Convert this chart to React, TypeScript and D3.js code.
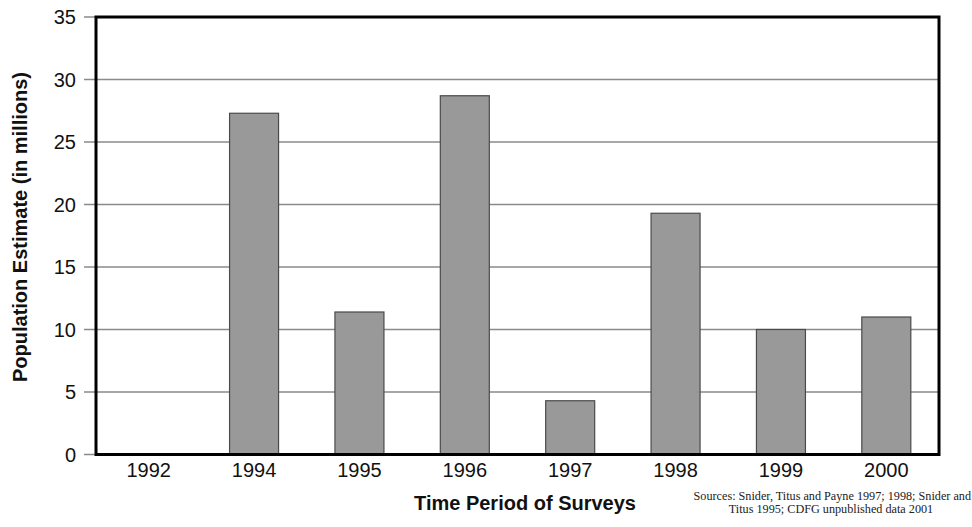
import React from "react";
import * as d3 from "d3";

const categories = ["1992", "1994", "1995", "1996", "1997", "1998", "1999", "2000"];
const values = [0, 27.3, 11.4, 28.7, 4.3, 19.3, 10.0, 11.0];
const yTicks = [0, 5, 10, 15, 20, 25, 30, 35];

export default function App() {
  const W = 972, H = 527;
  const left = 96, right = 939, top = 17, bottom = 454.5;
  const x = d3.scaleBand<string>().domain(categories).range([left, right]).paddingInner(0.535).paddingOuter(0.2675);
  const y = d3.scaleLinear().domain([0, 35]).range([bottom, top]);
  const font = "'Liberation Sans', Arial, sans-serif";
  const serif = "'Liberation Serif', 'Times New Roman', serif";
  return (
    <svg width={W} height={H} style={{ position: "absolute", left: 0, top: 0, background: "#fff" }}>
      {yTicks.map((t) => (
        <g key={t}>
          {t > 0 && t < 35 && (
            <line x1={left} x2={right} y1={y(t)} y2={y(t)} stroke="#8a8a8a" strokeWidth={1.5} />
          )}
          <line x1={84} x2={left} y1={y(t)} y2={y(t)} stroke="#8a8a8a" strokeWidth={1.5} />
          <text x={76} y={y(t)} dy="0.36em" textAnchor="end" fontFamily={font} fontSize={20} fill="#111">
            {t}
          </text>
        </g>
      ))}
      {categories.map((c, i) => (
        <g key={c}>
          {values[i] > 0 && (
            <rect
              x={x(c)}
              y={y(values[i])}
              width={x.bandwidth()}
              height={y(0) - y(values[i])}
              fill="#999999"
              stroke="#4a4a4a"
              strokeWidth={1.2}
            />
          )}
          <text x={(x(c) as number) + x.bandwidth() / 2} y={477} textAnchor="middle" fontFamily={font} fontSize={20} fill="#111">
            {c}
          </text>
        </g>
      ))}
      <rect x={left} y={top} width={right - left} height={bottom - top} fill="none" stroke="#000" strokeWidth={3} />
      <text
        transform={`translate(27,227) rotate(-90)`}
        textAnchor="middle"
        fontFamily={font}
        fontWeight="bold"
        fontSize={20}
        fill="#111"
      >
        Population Estimate (in millions)
      </text>
      <text x={525} y={510} textAnchor="middle" fontFamily={font} fontWeight="bold" fontSize={20} fill="#111">
        Time Period of Surveys
      </text>
      <text x={971} y={500} textAnchor="end" fontFamily={serif} fontSize={12.2} fill="#222">
        Sources: Snider, Titus and Payne 1997; 1998; Snider and
      </text>
      <text x={831} y={513} textAnchor="middle" fontFamily={serif} fontSize={12.2} fill="#222">
        Titus 1995; CDFG unpublished data 2001
      </text>
    </svg>
  );
}
